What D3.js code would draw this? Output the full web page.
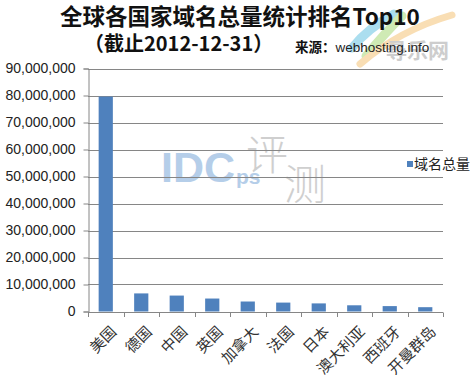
<!DOCTYPE html>
<html><head><meta charset="utf-8">
<script src="https://cdn.jsdelivr.net/npm/d3@7"></script>
<style>body{margin:0;background:#fff;}svg{display:block;}</style>
</head><body>
<svg id="c" width="470" height="379"></svg>
<script>
const categories = ["美国","德国","中国","英国","加拿大","法国","日本","澳大利亚","西班牙","开曼群岛"];
const values = [79600000, 6700000, 5900000, 4800000, 3700000, 3300000, 3000000, 2300000, 2000000, 1600000];
const yTicks = [0,10000000,20000000,30000000,40000000,50000000,60000000,70000000,80000000,90000000];
const seriesName = "域名总量";
const titleText = "全球各国家域名总量统计排名Top10";
const subtitleText = "（截止2012-12-31）";
const sourceLabel = "来源：";
const sourceText = "webhosting.info";

const svg = d3.select("#c");
const L = 88, R = 443, T = 68.5, B = 311.5;
const x = d3.scaleBand().domain(categories).range([L, R]).paddingInner(0.6).paddingOuter(0.3);
const y = d3.scaleLinear().domain([0, 90000000]).range([B, T]);
const grid = "#868686";

// watermark logo (top right)
const wm = svg.append("g").attr("opacity", 0.75);
wm.append("path").attr("d","M352,48 Q368,28 394,14").attr("stroke","#8fd3ea").attr("stroke-width",9).attr("fill","none").attr("stroke-linecap","round");
wm.append("path").attr("d","M366,56 Q384,34 402,16").attr("stroke","#bfe39b").attr("stroke-width",9).attr("fill","none").attr("stroke-linecap","round");
wm.append("path").attr("d","M360,64 Q400,30 452,15").attr("stroke","#f7d39b").attr("stroke-width",7).attr("fill","none").attr("stroke-linecap","round");
wm.append("text").attr("x",386).attr("y",58).attr("font-family","Noto Sans CJK SC").attr("font-weight","bold")
  .attr("font-size",21).attr("fill","#bdbdbd").text("尋乐网");

// watermark center
svg.append("text").attr("x",161).attr("y",182).attr("font-family","Liberation Sans, Arial").attr("font-weight","bold")
  .attr("font-size",43).attr("fill","#a9c6e6").attr("opacity",0.85).text("IDC");
svg.append("text").attr("x",236).attr("y",184).attr("font-family","Liberation Sans, Arial").attr("font-weight","bold")
  .attr("font-size",21).attr("fill","#a9c6e6").attr("opacity",0.85).text("ps");
svg.append("text").attr("x",246).attr("y",170).attr("font-family","Noto Sans CJK SC").attr("font-weight","300")
  .attr("font-size",42).attr("fill","#c4c4c4").attr("opacity",0.8).text("评");
svg.append("text").attr("x",284).attr("y",200).attr("font-family","Noto Sans CJK SC").attr("font-weight","300")
  .attr("font-size",42).attr("fill","#c4c4c4").attr("opacity",0.8).text("测");

// gridlines
svg.append("g").selectAll("line").data(yTicks.filter(d => d > 0)).join("line")
  .attr("x1", L).attr("x2", R).attr("y1", d => Math.round(y(d)) + 0.5).attr("y2", d => Math.round(y(d)) + 0.5)
  .attr("stroke", grid).attr("stroke-width", 1);

// y axis
const yAxis = d3.axisLeft(y).tickValues(yTicks).tickFormat(d3.format(",")).tickSize(5).tickPadding(8);
const gy = svg.append("g").attr("transform", `translate(${L + 0.5},0)`).call(yAxis);
gy.select(".domain").attr("stroke", grid);
gy.selectAll(".tick line").attr("stroke", grid);
gy.selectAll(".tick text").attr("font-family", "Liberation Sans, Arial").attr("font-size", 14).attr("fill", "#222");

// bars
svg.append("g").selectAll("rect").data(values).join("rect")
  .attr("x", (d, i) => x(categories[i]))
  .attr("width", x.bandwidth())
  .attr("y", d => y(d))
  .attr("height", d => y(0) - y(d))
  .attr("fill", "#4f81bd");

// x axis
const step = x.step();
const boundaries = d3.range(categories.length + 1).map(i => L + i * step);
const gx = svg.append("g");
gx.append("line").attr("x1", L).attr("x2", R).attr("y1", Math.round(B) + 0.5).attr("y2", Math.round(B) + 0.5).attr("stroke", grid);
gx.selectAll("line.t").data(boundaries).join("line").attr("class","t")
  .attr("x1", d => Math.round(d) + 0.5).attr("x2", d => Math.round(d) + 0.5)
  .attr("y1", Math.round(B) + 0.5).attr("y2", Math.round(B) + 5).attr("stroke", grid);
gx.selectAll("text").data(categories).join("text")
  .attr("transform", d => `translate(${x(d) + x.bandwidth() / 2 + 8},${329}) rotate(-45)`)
  .attr("text-anchor", "end").attr("dy", "0.35em")
  .attr("font-family", "Noto Sans CJK SC").attr("font-size", 15).attr("fill", "#333")
  .text(d => d);

// legend
svg.append("rect").attr("x", 407).attr("y", 161).attr("width", 6).attr("height", 6).attr("fill", "#4f81bd");
svg.append("text").attr("x", 414).attr("y", 164).attr("dy", "0.35em").attr("font-family", "Noto Sans CJK SC")
  .attr("font-size", 14).attr("fill", "#222").text(seriesName);

// titles
svg.append("text").attr("x", 240).attr("y", 24.5).attr("text-anchor", "middle").attr("font-family", "Noto Sans CJK SC, Liberation Sans")
  .attr("font-weight", "bold").attr("font-size", 22.5).attr("fill", "#111").text(titleText);
svg.append("text").attr("x", 84).attr("y", 51).attr("font-family", "Noto Sans CJK SC, Liberation Sans")
  .attr("font-weight", "bold").attr("font-size", 20).attr("fill", "#111").text(subtitleText);
const src = svg.append("text").attr("x", 295).attr("y", 52).attr("font-size", 13.5);
src.append("tspan").attr("font-family", "Noto Sans CJK SC").attr("font-weight", "bold").attr("fill", "#111").text(sourceLabel);
src.append("tspan").attr("font-family", "Liberation Sans, Arial").attr("fill", "#222").text(sourceText);
</script>
</body></html>
